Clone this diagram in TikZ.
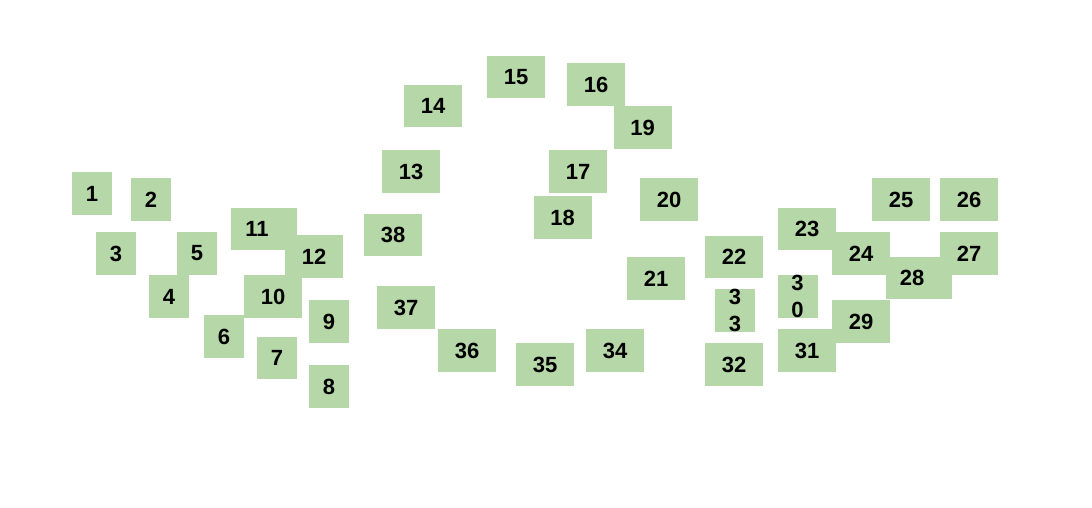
\documentclass[tikz,border=0pt]{standalone}
\usepackage{fontspec}
\setmainfont{Liberation Sans}
\definecolor{boxgreen}{HTML}{B6D7A8}
\begin{document}
\begin{tikzpicture}[x=1pt,y=-1pt,
  box/.style={fill=boxgreen, draw=none, inner sep=0pt, minimum width=40pt, minimum height=43pt,
    font=\fontsize{22}{26.7}\selectfont\bfseries, text=black, align=center},
  mid/.style={minimum width=58pt},
  wide/.style={minimum width=66pt, execute at begin node={\hspace*{-14pt}}}]
\fill[white] (0,0) rectangle (1092,508);
\useasboundingbox (0,0) rectangle (1092,508);
% left cluster
\node[box] (n1) at (92,193.5) {1};
\node[box] (n2) at (151,199.5) {2};
\node[box] (n3) at (116,253.5) {3};
\node[box] (n5) at (197,253.5) {5};
\node[box] (n4) at (169,296.5) {4};
\node[box,wide,minimum height=42pt] (n11) at (264,229) {11};
\node[box,mid] (n12) at (314,256.5) {12};
\node[box,mid] (n10) at (273,296.5) {10};
\node[box] (n9) at (329,321.5) {9};
\node[box] (n6) at (224,336.5) {6};
\node[box,minimum height=42pt] (n7) at (277,358) {7};
\node[box] (n8) at (329,386.5) {8};
% middle ring
\node[box,mid,minimum height=42pt] (n15) at (516,77) {15};
\node[box,mid] (n16) at (596,84.5) {16};
\node[box,mid,minimum height=42pt] (n14) at (433,106) {14};
\node[box,mid] (n19) at (642.5,127.5) {19};
\node[box,mid] (n13) at (411,171.5) {13};
\node[box,mid] (n17) at (578,171.5) {17};
\node[box,mid] (n20) at (669,199.5) {20};
\node[box,mid] (n18) at (562.5,217.5) {18};
\node[box,mid,minimum height=42pt] (n38) at (393,235) {38};
\node[box,mid] (n21) at (656,278.5) {21};
\node[box,mid] (n37) at (406,307.5) {37};
\node[box,mid] (n36) at (467,350.5) {36};
\node[box,mid] (n34) at (615,350.5) {34};
\node[box,mid] (n35) at (545,364.5) {35};
% right cluster
\node[box,mid] (n25) at (901,199.5) {25};
\node[box,mid] (n26) at (969,199.5) {26};
\node[box,mid,minimum height=42pt] (n23) at (807,229) {23};
\node[box,mid,minimum height=42pt] (n22) at (734,257) {22};
\node[box,mid] (n24) at (861,253.5) {24};
\node[box,mid] (n27) at (969,253.5) {27};
\node[box,wide,minimum height=42pt] (n28) at (919,278) {28};
\node[box] (n30) at (797.5,296.5) {3\\0};
\node[box] (n33) at (735,310.5) {3\\3};
\node[box,mid] (n29) at (861,321.5) {29};
\node[box,mid] (n31) at (807,350.5) {31};
\node[box,mid] (n32) at (734,364.5) {32};
\end{tikzpicture}
\end{document}
